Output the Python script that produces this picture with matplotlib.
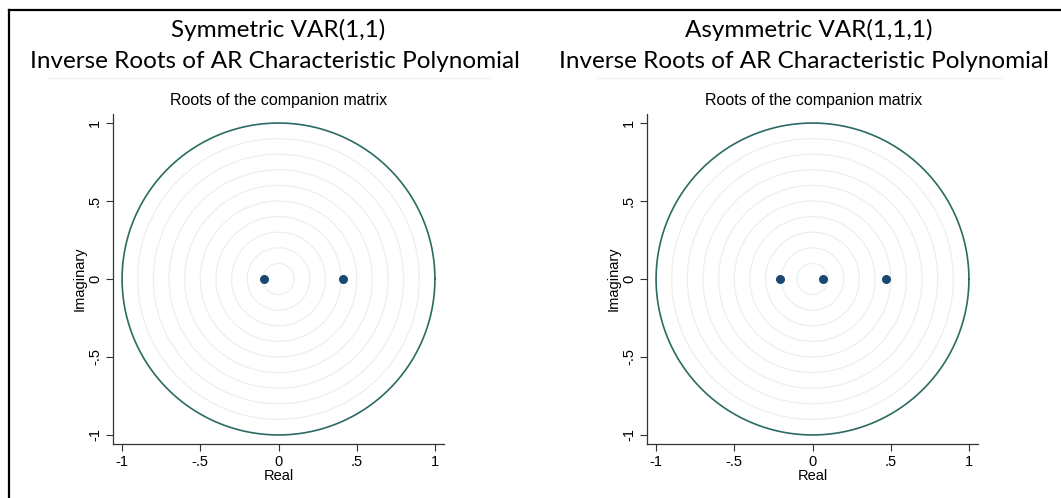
import numpy as np
import matplotlib
matplotlib.use("Agg")
import matplotlib.pyplot as plt
from matplotlib.lines import Line2D

# ---- data ----
titles = ["Symmetric VAR(1,1)", "Asymmetric VAR(1,1,1)"]
title_line2 = "Inverse Roots of AR Characteristic Polynomial"
subtitle = "Roots of the companion matrix"
roots_real = [[-0.09, 0.41], [-0.21, 0.07, 0.47]]
roots_imag = [[0.0, 0.0], [0.0, 0.0, 0.0]]
tick_vals = [-1, -0.5, 0, 0.5, 1]
tick_labels = ["-1", "-.5", "0", ".5", "1"]
grid_radii = [0.1, 0.2, 0.3, 0.4, 0.5, 0.6, 0.7, 0.8, 0.9]

W, H = 1061, 498
fig = plt.figure(figsize=(W / 100, H / 100), dpi=100)

def fx(px):
    return px / W

def fy(py):
    return 1 - py / H

# frame lines (top and left)
fig.add_artist(Line2D([fx(8.5), 1], [fy(10.5), fy(10.5)], color="black", lw=1.6))
fig.add_artist(Line2D([fx(8.5), fx(8.5)], [fy(10.5), 0], color="black", lw=1.6))

panel_left = [113, 647]
panel_center = [279, 814]
title1_center = [278, 809]
title2_center = [275, 804]
rule_span = [(48, 490), (598, 1002)]
ax_w = 331
ax_top, ax_bot = 114, 444

theta = np.linspace(0, 2 * np.pi, 721)
for i in range(2):
    l = panel_left[i]
    ax = fig.add_axes([fx(l), fy(ax_bot), ax_w / W, (ax_bot - ax_top) / H])
    for r in grid_radii:
        ax.plot(r * np.cos(theta), r * np.sin(theta), color="#eaf0f0", lw=0.9, zorder=1)
    ax.plot(np.cos(theta), np.sin(theta), color="#2a6b63", lw=1.2, zorder=2)
    ax.scatter(roots_real[i], roots_imag[i], s=42, color="#1a476f", zorder=3, linewidths=0)
    ax.set_xlim(-1.058, 1.058)
    ax.set_ylim(-1.058, 1.058)
    ax.set_xticks(tick_vals)
    ax.set_xticklabels(tick_labels)
    ax.set_yticks(tick_vals)
    ax.set_yticklabels(tick_labels, rotation=90, va="center")
    for s in ["top", "right"]:
        ax.spines[s].set_visible(False)
    for s in ["left", "bottom"]:
        ax.spines[s].set_color("#333333")
        ax.spines[s].set_linewidth(0.9)
    ax.tick_params(direction="out", length=5, width=0.8, color="#333333",
                   labelsize=10.5, pad=3, labelcolor="black")
    for lab in ax.get_xticklabels() + ax.get_yticklabels():
        lab.set_fontfamily("Liberation Sans")
    ax.set_xlabel("Real", fontfamily="Liberation Sans", fontsize=10.5, labelpad=0)
    ax.set_ylabel("Imaginary", fontfamily="Liberation Sans", fontsize=10.5, labelpad=1)
    ax.set_facecolor("none")

    c = panel_center[i]
    fig.text(fx(title1_center[i]), fy(30), titles[i], ha="center", va="center",
             fontfamily="Lato", fontsize=17.5)
    fig.text(fx(title2_center[i]), fy(61), title_line2, ha="center", va="center",
             fontfamily="Lato", fontsize=17.5)
    a, b = rule_span[i]
    fig.add_artist(Line2D([fx(a), fx(b)], [fy(78), fy(78)], color="#eef2f2", lw=1.0))
    fig.text(fx(c), fy(101), subtitle, ha="center", va="center",
             fontfamily="Liberation Sans", fontsize=11.5)

fig.savefig("out.png", dpi=100)
